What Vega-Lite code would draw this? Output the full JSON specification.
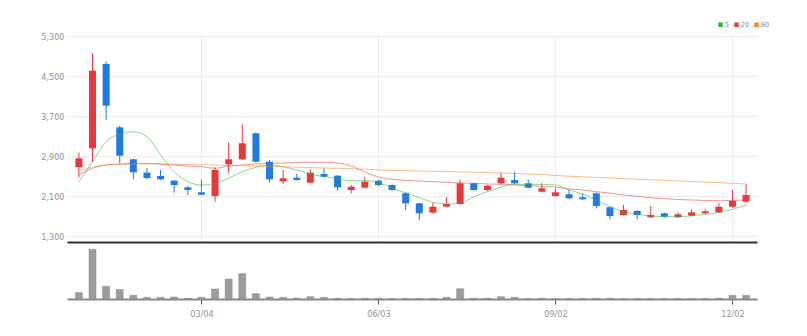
{
  "$schema": "https://vega.github.io/schema/vega-lite/v6.json",
  "autosize": {"type": "pad"},
  "padding": {"left": 40, "top": 21, "right": 5, "bottom": 5},
  "background": "white",
  "config": {
    "view": {"stroke": null},
    "concat": {"spacing": 1},
    "font": "Liberation Sans Narrow, DejaVu Sans Condensed, Liberation Sans, sans-serif",
    "axis": {"labelFont": "Liberation Sans Narrow, DejaVu Sans Condensed, Liberation Sans, sans-serif", "labelFontSize": 9, "labelColor": "#949494"}
  },
  "bounds": "flush",
  "resolve": {"scale": {"x": "independent", "y": "independent", "color": "independent"}, "legend": {"color": "independent"}},
  "datasets": {
    "weekly": [
      {"d": "2024-01-01T00:00:00", "o": 2674, "h": 2966, "l": 2474, "c": 2854, "v": 64000, "5": 2386, "20": 2520, "60": 2600},
      {"d": "2024-01-08T00:00:00", "o": 3054, "h": 4954, "l": 2786, "c": 4606, "v": 497000, "5": 2786, "20": 2654, "60": 2680},
      {"d": "2024-01-15T00:00:00", "o": 4740, "h": 4794, "l": 3620, "c": 3906, "v": 127000, "5": 3186, "20": 2720, "60": 2720},
      {"d": "2024-01-22T00:00:00", "o": 3474, "h": 3506, "l": 2754, "c": 2906, "v": 94000, "5": 3334, "20": 2740, "60": 2734},
      {"d": "2024-01-29T00:00:00", "o": 2834, "h": 2850, "l": 2434, "c": 2574, "v": 37000, "5": 3386, "20": 2754, "60": 2740},
      {"d": "2024-02-05T00:00:00", "o": 2566, "h": 2660, "l": 2434, "c": 2460, "v": 17000, "5": 3286, "20": 2754, "60": 2740},
      {"d": "2024-02-12T00:00:00", "o": 2500, "h": 2620, "l": 2420, "c": 2434, "v": 17000, "5": 2920, "20": 2740, "60": 2740},
      {"d": "2024-02-19T00:00:00", "o": 2406, "h": 2420, "l": 2166, "c": 2320, "v": 20000, "5": 2586, "20": 2720, "60": 2736},
      {"d": "2024-02-26T00:00:00", "o": 2274, "h": 2300, "l": 2120, "c": 2220, "v": 7000, "5": 2386, "20": 2700, "60": 2730},
      {"d": "2024-03-04T00:00:00", "o": 2174, "h": 2420, "l": 2110, "c": 2126, "v": 17000, "5": 2320, "20": 2686, "60": 2724},
      {"d": "2024-03-11T00:00:00", "o": 2100, "h": 2674, "l": 1986, "c": 2620, "v": 100000, "5": 2354, "20": 2654, "60": 2718},
      {"d": "2024-03-18T00:00:00", "o": 2734, "h": 3174, "l": 2554, "c": 2834, "v": 200000, "5": 2454, "20": 2700, "60": 2710},
      {"d": "2024-03-25T00:00:00", "o": 2834, "h": 3534, "l": 2820, "c": 3154, "v": 254000, "5": 2586, "20": 2720, "60": 2704},
      {"d": "2024-04-01T00:00:00", "o": 3354, "h": 3370, "l": 2770, "c": 2786, "v": 54000, "5": 2674, "20": 2740, "60": 2698},
      {"d": "2024-04-08T00:00:00", "o": 2786, "h": 2820, "l": 2374, "c": 2434, "v": 20000, "5": 2720, "20": 2754, "60": 2690},
      {"d": "2024-04-15T00:00:00", "o": 2394, "h": 2620, "l": 2340, "c": 2454, "v": 17000, "5": 2686, "20": 2760, "60": 2684},
      {"d": "2024-04-22T00:00:00", "o": 2466, "h": 2540, "l": 2410, "c": 2420, "v": 10000, "5": 2620, "20": 2766, "60": 2676},
      {"d": "2024-04-29T00:00:00", "o": 2366, "h": 2620, "l": 2360, "c": 2566, "v": 23000, "5": 2540, "20": 2774, "60": 2668},
      {"d": "2024-05-06T00:00:00", "o": 2540, "h": 2654, "l": 2470, "c": 2486, "v": 17000, "5": 2486, "20": 2774, "60": 2660},
      {"d": "2024-05-13T00:00:00", "o": 2506, "h": 2520, "l": 2206, "c": 2274, "v": 7000, "5": 2454, "20": 2760, "60": 2652},
      {"d": "2024-05-20T00:00:00", "o": 2220, "h": 2320, "l": 2154, "c": 2286, "v": 3000, "5": 2406, "20": 2700, "60": 2644},
      {"d": "2024-05-27T00:00:00", "o": 2266, "h": 2486, "l": 2250, "c": 2386, "v": 7000, "5": 2406, "20": 2580, "60": 2636},
      {"d": "2024-06-03T00:00:00", "o": 2406, "h": 2420, "l": 2300, "c": 2320, "v": 7000, "5": 2370, "20": 2480, "60": 2620},
      {"d": "2024-06-10T00:00:00", "o": 2320, "h": 2330, "l": 2210, "c": 2220, "v": 3000, "5": 2254, "20": 2434, "60": 2612},
      {"d": "2024-06-17T00:00:00", "o": 2154, "h": 2170, "l": 1820, "c": 1954, "v": 3000, "5": 2166, "20": 2414, "60": 2606},
      {"d": "2024-06-24T00:00:00", "o": 1954, "h": 1970, "l": 1620, "c": 1754, "v": 5000, "5": 2066, "20": 2400, "60": 2600},
      {"d": "2024-07-01T00:00:00", "o": 1766, "h": 1966, "l": 1750, "c": 1886, "v": 5000, "5": 1974, "20": 2386, "60": 2594},
      {"d": "2024-07-08T00:00:00", "o": 1886, "h": 2074, "l": 1880, "c": 1940, "v": 17000, "5": 1940, "20": 2374, "60": 2588},
      {"d": "2024-07-15T00:00:00", "o": 1940, "h": 2420, "l": 1920, "c": 2354, "v": 103000, "5": 1954, "20": 2360, "60": 2582},
      {"d": "2024-07-22T00:00:00", "o": 2354, "h": 2370, "l": 2210, "c": 2220, "v": 7000, "5": 2086, "20": 2354, "60": 2576},
      {"d": "2024-07-29T00:00:00", "o": 2220, "h": 2320, "l": 2200, "c": 2306, "v": 7000, "5": 2186, "20": 2340, "60": 2568},
      {"d": "2024-08-05T00:00:00", "o": 2354, "h": 2566, "l": 2340, "c": 2466, "v": 23000, "5": 2274, "20": 2334, "60": 2560},
      {"d": "2024-08-12T00:00:00", "o": 2420, "h": 2586, "l": 2340, "c": 2354, "v": 17000, "5": 2334, "20": 2320, "60": 2552},
      {"d": "2024-08-19T00:00:00", "o": 2354, "h": 2434, "l": 2250, "c": 2266, "v": 2000, "5": 2334, "20": 2306, "60": 2540},
      {"d": "2024-08-26T00:00:00", "o": 2186, "h": 2354, "l": 2170, "c": 2254, "v": 7000, "5": 2334, "20": 2294, "60": 2530},
      {"d": "2024-09-02T00:00:00", "o": 2100, "h": 2254, "l": 2090, "c": 2174, "v": 2000, "5": 2320, "20": 2280, "60": 2510},
      {"d": "2024-09-09T00:00:00", "o": 2134, "h": 2220, "l": 2040, "c": 2054, "v": 2000, "5": 2220, "20": 2240, "60": 2496},
      {"d": "2024-09-16T00:00:00", "o": 2074, "h": 2154, "l": 2020, "c": 2034, "v": 2000, "5": 2140, "20": 2220, "60": 2484},
      {"d": "2024-09-23T00:00:00", "o": 2154, "h": 2170, "l": 1854, "c": 1900, "v": 7000, "5": 2020, "20": 2186, "60": 2472},
      {"d": "2024-09-30T00:00:00", "o": 1874, "h": 1890, "l": 1634, "c": 1700, "v": 7000, "5": 1886, "20": 2160, "60": 2460},
      {"d": "2024-10-07T00:00:00", "o": 1720, "h": 1920, "l": 1710, "c": 1820, "v": 2000, "5": 1786, "20": 2120, "60": 2448},
      {"d": "2024-10-14T00:00:00", "o": 1800, "h": 1820, "l": 1634, "c": 1720, "v": 2000, "5": 1734, "20": 2094, "60": 2436},
      {"d": "2024-10-21T00:00:00", "o": 1674, "h": 1900, "l": 1660, "c": 1720, "v": 2000, "5": 1700, "20": 2066, "60": 2424},
      {"d": "2024-10-28T00:00:00", "o": 1754, "h": 1770, "l": 1670, "c": 1686, "v": 2000, "5": 1686, "20": 2046, "60": 2412},
      {"d": "2024-11-04T00:00:00", "o": 1674, "h": 1766, "l": 1660, "c": 1734, "v": 2000, "5": 1686, "20": 2030, "60": 2400},
      {"d": "2024-11-11T00:00:00", "o": 1706, "h": 1834, "l": 1690, "c": 1774, "v": 2000, "5": 1706, "20": 2020, "60": 2390},
      {"d": "2024-11-18T00:00:00", "o": 1754, "h": 1834, "l": 1740, "c": 1794, "v": 2000, "5": 1734, "20": 2010, "60": 2378},
      {"d": "2024-11-25T00:00:00", "o": 1774, "h": 1954, "l": 1760, "c": 1886, "v": 7000, "5": 1766, "20": 2006, "60": 2366},
      {"d": "2024-12-02T00:00:00", "o": 1886, "h": 2220, "l": 1870, "c": 2000, "v": 37000, "5": 1834, "20": 2010, "60": 2354},
      {"d": "2024-12-09T00:00:00", "o": 1986, "h": 2340, "l": 1970, "c": 2120, "v": 37000, "5": 1920, "20": 2020, "60": 2340}
    ]
  },
  "vconcat": [
    {
      "width": 690,
      "height": 206,
      "data": {"name": "weekly"},
      "encoding": {
        "x": {
          "field": "d", "type": "temporal",
          "scale": {"domain": [{"year": 2023, "month": 12, "date": 28, "hours": 11}, {"year": 2024, "month": 12, "date": 12, "hours": 1}]},
          "axis": {
            "values": [{"year": 2024, "month": 3, "date": 4}, {"year": 2024, "month": 6, "date": 3}, {"year": 2024, "month": 9, "date": 2}, {"year": 2024, "month": 12, "date": 2}],
            "labels": false, "ticks": false, "title": null,
            "grid": true, "gridColor": "#ececec", "gridWidth": 1,
            "domain": true, "domainColor": "#333333", "domainWidth": 2
          }
        }
      },
      "layer": [
        {
          "mark": {"type": "rule", "strokeWidth": 1},
          "encoding": {
            "y": {
              "field": "l", "type": "quantitative",
              "scale": {"domain": [1180, 5300], "nice": false, "zero": false},
              "axis": {"values": [1300, 2100, 2900, 3700, 4500, 5300], "format": ",d", "title": null, "domain": false, "ticks": false, "labelPadding": 3, "grid": true, "gridColor": "#ececec"}
            },
            "y2": {"field": "h"},
            "color": {"condition": {"test": "datum.c >= datum.o", "value": "#e8383d"}, "value": "#1e7be6"}
          }
        },
        {
          "mark": {"type": "bar", "size": 7},
          "encoding": {
            "y": {"field": "o", "type": "quantitative"},
            "y2": {"field": "c"},
            "color": {"condition": {"test": "datum.c >= datum.o", "value": "#e8383d"}, "value": "#1e7be6"}
          }
        },
        {
          "transform": [{"fold": ["5", "20", "60"], "as": ["ma", "val"]}],
          "mark": {"type": "line", "strokeWidth": 1, "strokeOpacity": 0.55, "interpolate": "monotone"},
          "encoding": {
            "y": {"field": "val", "type": "quantitative"},
            "color": {
              "field": "ma", "type": "nominal",
              "scale": {"domain": ["5", "20", "60"], "range": ["#2fb52f", "#ea3a3a", "#f4892a"]},
              "legend": {
                "orient": "none", "legendX": 650, "legendY": -15, "direction": "horizontal",
                "title": null, "symbolType": "square", "symbolSize": 4, "symbolStrokeWidth": 2.5,
                "symbolOpacity": 1, "labelFontSize": 7, "labelColor": "#888888",
                "labelFont": "Liberation Sans Narrow, DejaVu Sans Condensed, Liberation Sans, sans-serif",
                "labelOffset": 1, "columnPadding": 0, "gridAlign": "each", "padding": 0
              }
            }
          }
        }
      ]
    },
    {
      "width": 690,
      "height": 56,
      "data": {"name": "weekly"},
      "mark": {"type": "bar", "size": 7, "color": "#9c9c9c", "stroke": "#8a8a8a", "strokeWidth": 0.5},
      "encoding": {
        "x": {
          "field": "d", "type": "temporal",
          "scale": {"domain": [{"year": 2023, "month": 12, "date": 28, "hours": 11}, {"year": 2024, "month": 12, "date": 12, "hours": 1}]},
          "axis": {
            "values": [{"year": 2024, "month": 3, "date": 4}, {"year": 2024, "month": 6, "date": 3}, {"year": 2024, "month": 9, "date": 2}, {"year": 2024, "month": 12, "date": 2}],
            "format": "%m/%d", "title": null, "grid": false,
            "domain": true, "domainColor": "#888888", "domainWidth": 2,
            "ticks": true, "tickColor": "#555555", "tickSize": 5, "labelPadding": 5
          }
        },
        "y": {"field": "v", "type": "quantitative", "scale": {"domain": [0, 560000], "nice": false}, "axis": null}
      }
    }
  ]
}
